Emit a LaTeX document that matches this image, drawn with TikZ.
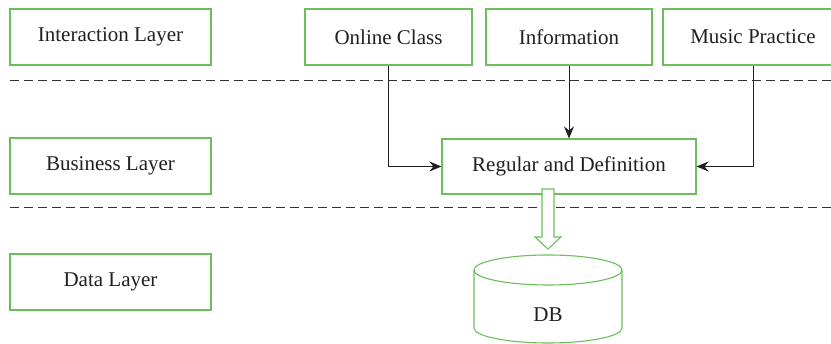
\documentclass[tikz,border=0pt]{standalone}
\usepackage{fontspec}
\setmainfont{Liberation Serif}
\usetikzlibrary{arrows.meta}
\definecolor{boxgreen}{RGB}{108,190,92}
\definecolor{ink}{RGB}{35,31,32}
\definecolor{rule}{RGB}{50,50,50}
\begin{document}
\begin{tikzpicture}[x=1pt,y=-1pt,
  layerbox/.style={draw=boxgreen,line width=1.1pt,fill=white,text=ink,
    minimum height=56pt,inner sep=0pt,font=\fontsize{21}{23}\selectfont},
  link/.style={draw=ink,line width=1pt,-{Stealth[length=12pt,width=10pt,inset=4pt]}},
  divider/.style={draw=rule,line width=1pt,dash pattern=on 9pt off 5pt}]
\useasboundingbox (0,0) rectangle (831,344);
\begin{scope}
\clip (0,0) rectangle (831,344);

% layer labels on the left
\node[layerbox,minimum width=201pt] (inter) at (110.5,37) {Interaction Layer};
\node[layerbox,minimum width=201pt] (busi)  at (110.5,166) {Business Layer};
\node[layerbox,minimum width=201pt] (data)  at (110.5,282) {Data Layer};

% interaction modules
\node[layerbox,minimum width=167pt] (oc)   at (388.5,37) {Online Class};
\node[layerbox,minimum width=166pt] (info) at (569,37)   {Information};
\node[layerbox,minimum width=180pt] (mp)   at (753,37)   {Music Practice};

% layer dividers
\coordinate (d1a) at (10,81);  \coordinate (d1b) at (831,81);
\coordinate (d2a) at (10,208); \coordinate (d2b) at (831,208);
\draw[divider] (d1a) -- (d1b);
\draw[divider] (d2a) -- (d2b);

% business logic
\node[layerbox,minimum width=254pt,minimum height=55pt] (reg) at (569,166.5) {Regular and Definition};

\draw[link] (oc.south) |- (reg.west);
\draw[link] (info.south) -- (reg.north);
\draw[link] (mp.south) |- (reg.east);

% hollow arrow down to the database
\draw[draw=boxgreen,line width=1.1pt,fill=white,line join=miter]
  (542,189) -- (554,189) -- (554,237) -- (561,237) -- (548,249)
  -- (535,237) -- (542,237) -- cycle;

% database cylinder (y axis points down, so angle 90 is the lower side)
\draw[draw=boxgreen,line width=1.1pt,fill=white]
  (474,270) -- (474,328) arc[start angle=180,end angle=0,x radius=74,y radius=15]
  -- (622,270) arc[start angle=0,end angle=-180,x radius=74,y radius=15] -- cycle;
\draw[draw=boxgreen,line width=1.1pt]
  (474,270) arc[start angle=180,end angle=0,x radius=74,y radius=15];
\node[text=ink,font=\fontsize{21}{23}\selectfont] (db) at (548,315) {DB};
\end{scope}
\end{tikzpicture}
\end{document}
